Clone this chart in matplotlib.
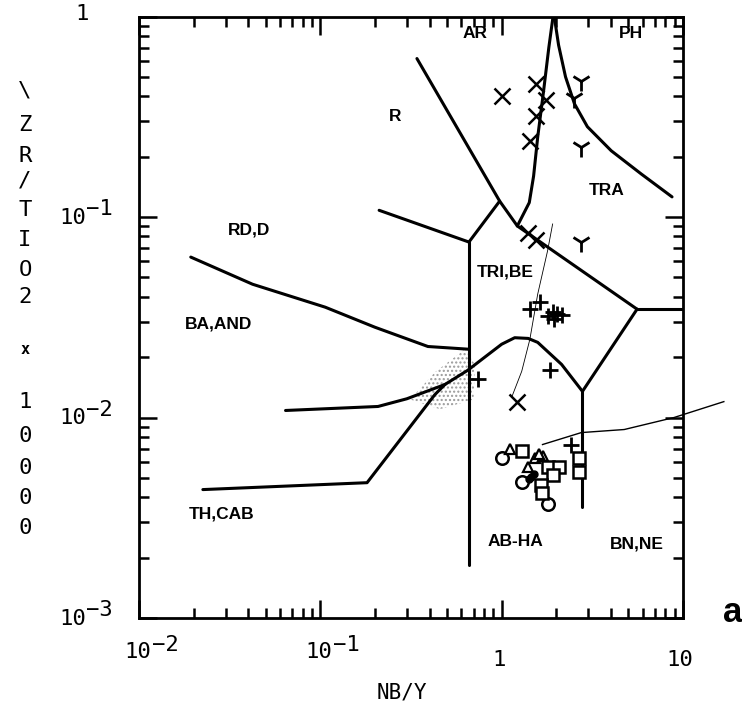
import matplotlib
matplotlib.use("Agg")
import matplotlib.pyplot as plt
from matplotlib.ticker import LogLocator, NullFormatter

# ---- field boundaries (Nb/Y, Zr/TiO2*0.0001) ----
rdd_x = [0.211, 0.66]
rdd_y = [0.108, 0.075]
tribe_top_x = [0.66, 0.975]
tribe_top_y = [0.075, 0.120]
r_ar_x = [0.341, 0.975, 1.22, 5.58]
r_ar_y = [0.617, 0.120, 0.0902, 0.0347]
ph_base_x = [5.58, 10.0]
ph_base_y = [0.0347, 0.0347]
tra_diag_x = [5.58, 2.79]
tra_diag_y = [0.0347, 0.0135]
bnne_x = [2.79, 2.79]
bnne_y = [0.0135, 0.00359]
arch_x = [0.486, 0.65, 0.807, 1.0, 1.18, 1.40, 1.58, 2.14, 2.79]
arch_y = [0.0146, 0.0172, 0.0200, 0.0232, 0.0250, 0.0248, 0.0237, 0.0184, 0.0135]
cab_upper_x = [0.0643, 0.208, 0.30, 0.486]
cab_upper_y = [0.01084, 0.01135, 0.0124, 0.0146]
cab_lower_x = [0.0225, 0.181, 0.428, 0.486]
cab_lower_y = [0.00437, 0.00473, 0.0130, 0.0146]
baand_x = [0.0193, 0.0423, 0.1064, 0.200, 0.392, 0.66]
baand_y = [0.0631, 0.0462, 0.0355, 0.0282, 0.0226, 0.0219]
abha_x = [0.66, 0.66]
abha_y = [0.075, 0.00184]
ar_tra_x = [1.92, 1.82, 1.70, 1.58, 1.50, 1.42, 1.22]
ar_tra_y = [1.0, 0.70, 0.42, 0.25, 0.16, 0.118, 0.0902]
ph_tra_x = [1.95, 2.06, 2.25, 2.52, 2.97, 4.02, 5.88, 8.70]
ph_tra_y = [1.0, 0.72, 0.50, 0.367, 0.282, 0.214, 0.164, 0.126]

# stippled cloud of fine dots near the andesite / basalt junction
cloud_x = [0.313, 0.428, 0.627, 0.711, 0.70, 0.456]
cloud_y = [0.0123, 0.0168, 0.0219, 0.0184, 0.0123, 0.0110]

# hand-drawn annotation strokes
pen_x = [1.68, 2.75, 4.74, 8.93, 16.8]
pen_y = [0.00733, 0.00841, 0.00871, 0.0100, 0.0120]
trend_x = [1.91, 1.79, 1.58, 1.43, 1.29, 1.135]
trend_y = [0.0923, 0.0676, 0.0412, 0.0245, 0.0170, 0.0126]

# ---- samples ----
cross_x = [1.0, 1.54, 1.75, 1.54, 1.43, 1.39, 1.54, 1.21]
cross_y = [0.403, 0.462, 0.385, 0.320, 0.240, 0.0832, 0.0767, 0.0119]
ysym_x = [2.75, 2.52, 2.75, 2.75]
ysym_y = [0.479, 0.394, 0.224, 0.075]
plus_x = [1.43, 1.62, 1.79, 1.91, 2.03, 2.14, 1.95, 0.738, 1.84, 2.42]
plus_y = [0.0347, 0.0376, 0.0320, 0.0335, 0.0330, 0.0325, 0.0309, 0.0155, 0.0172, 0.00733]
circ_x = [1.01, 1.29, 1.79]
circ_y = [0.00631, 0.00479, 0.00372]
tri_x = [1.11, 1.52, 1.68, 1.39, 1.60]
tri_y = [0.0070, 0.00631, 0.0064, 0.00569, 0.0066]
sq_x = [1.30, 1.79, 2.08, 1.91, 1.64, 1.66, 2.68, 2.68]
sq_y = [0.00684, 0.00569, 0.00569, 0.00519, 0.00462, 0.00422, 0.00631, 0.00537]
dot_x = [1.46, 1.50, 1.42]
dot_y = [0.00507, 0.00520, 0.00495]

# ---- field names ----
field_names = ["AR", "PH", "R", "RD,D", "TRA", "TRI,BE", "BA,AND", "TH,CAB", "AB-HA", "BN,NE"]
field_x = [0.711, 5.18, 0.258, 0.0407, 3.78, 1.04, 0.0275, 0.0286, 1.19, 5.58]
field_y = [0.822, 0.822, 0.316, 0.0861, 0.135, 0.0531, 0.0292, 0.00331, 0.0024, 0.00234]

# ---- axis ticks ----
xtick_vals = [0.01, 0.1, 1, 10]
xtick_base = ["10", "10", "1", "10"]
xtick_exp = ["\u22122", "\u22121", "", ""]
ytick_vals = [0.001, 0.01, 0.1, 1]
ytick_base = ["10", "10", "10", "1"]
ytick_exp = ["\u22123", "\u22122", "\u22121", ""]
ylabel_chars = ["\\", "Z", "R", "/", "T", "I", "O", "2", "x", "1", "0", "0", "0", "0"]
xlabel_text = "NB/Y"

MONO = "DejaVu Sans Mono"
BOLD = ["Liberation Sans", "DejaVu Sans"]

fig = plt.figure(figsize=(7.42, 7.11), dpi=100)
W, H = 742, 711
ax = fig.add_axes([139 / W, 1 - 618 / H, 544 / W, (618 - 16.5) / H])
ax.set_xscale("log")
ax.set_yscale("log")
ax.set_xlim(0.01, 10)
ax.set_ylim(0.001, 1)

for s in ax.spines.values():
    s.set_linewidth(2.0)

ax.xaxis.set_minor_locator(LogLocator(base=10, subs=range(2, 10), numticks=20))
ax.yaxis.set_minor_locator(LogLocator(base=10, subs=range(2, 10), numticks=20))
ax.xaxis.set_minor_formatter(NullFormatter())
ax.yaxis.set_minor_formatter(NullFormatter())
ax.set_xticks(xtick_vals)
ax.set_yticks(ytick_vals)
ax.tick_params(which="both", direction="in", top=True, right=True,
               labelbottom=False, labelleft=False, width=1.8, color="black")
ax.tick_params(which="major", length=13)
ax.tick_params(which="minor", length=7)

lw = 2.2
kw = dict(color="black", lw=lw, solid_capstyle="round", solid_joinstyle="round")
for xs, ys in [(rdd_x, rdd_y), (tribe_top_x, tribe_top_y), (r_ar_x, r_ar_y),
               (ph_base_x, ph_base_y), (tra_diag_x, tra_diag_y), (bnne_x, bnne_y),
               (arch_x, arch_y), (cab_upper_x, cab_upper_y), (cab_lower_x, cab_lower_y),
               (baand_x, baand_y), (abha_x, abha_y), (ar_tra_x, ar_tra_y),
               (ph_tra_x, ph_tra_y)]:
    ax.plot(xs, ys, **kw)

ax.fill(cloud_x, cloud_y, facecolor="none", edgecolor="#9a9a9a", hatch="....", lw=0)
ax.plot(pen_x, pen_y, color="black", lw=1.0, clip_on=False)
ax.plot(trend_x, trend_y, color="black", lw=0.6)

ax.plot(cross_x, cross_y, ls="none", marker="x", ms=11, mew=1.8, color="black")
ax.plot(ysym_x, ysym_y, ls="none", marker="1", ms=15, mew=2.0, color="black")
ax.plot(plus_x, plus_y, ls="none", marker="+", ms=11, mew=2.0, color="black")
ax.plot(circ_x, circ_y, ls="none", marker="o", ms=9, mew=1.8, mfc="white", mec="black")
ax.plot(tri_x, tri_y, ls="none", marker="^", ms=7, mew=1.6, mfc="white", mec="black")
ax.plot(sq_x, sq_y, ls="none", marker="s", ms=8, mew=1.8, mfc="white", mec="black")
ax.plot(dot_x, dot_y, ls="none", marker="o", ms=5, color="black")

for name, fx, fy in zip(field_names, field_x, field_y):
    ax.text(fx, fy, name, ha="center", va="center", fontsize=12.5,
            fontweight="bold", family=BOLD)

# tick labels in plotter style: base with a raised exponent
for v, b, e in zip(xtick_vals, xtick_base, xtick_exp):
    if e:
        ax.annotate(b, xy=(v, 0), xycoords=("data", "axes fraction"),
                    xytext=(12, -34), textcoords="offset pixels",
                    ha="right", va="center", fontsize=16, family=MONO)
        ax.annotate(e, xy=(v, 0), xycoords=("data", "axes fraction"),
                    xytext=(13, -27), textcoords="offset pixels",
                    ha="left", va="center", fontsize=16, family=MONO)
    else:
        ax.annotate(b, xy=(v, 0), xycoords=("data", "axes fraction"),
                    xytext=(-3, -42), textcoords="offset pixels",
                    ha="center", va="center", fontsize=16, family=MONO)

for v, b, e in zip(ytick_vals, ytick_base, ytick_exp):
    if e:
        ax.annotate(b, xy=(0, v), xycoords=("axes fraction", "data"),
                    xytext=(-53, -1), textcoords="offset pixels",
                    ha="right", va="center", fontsize=16, family=MONO)
        ax.annotate(e, xy=(0, v), xycoords=("axes fraction", "data"),
                    xytext=(-53, 8), textcoords="offset pixels",
                    ha="left", va="center", fontsize=16, family=MONO)
    else:
        ax.annotate(b, xy=(0, v), xycoords=("axes fraction", "data"),
                    xytext=(-57, 2), textcoords="offset pixels",
                    ha="center", va="center", fontsize=16, family=MONO)

fig.text(402 / W, 1 - 692 / H, xlabel_text, ha="center", va="center",
         fontsize=15, family=MONO)

ylab_pos = [91, 125, 156, 180, 210, 240, 270, 297, 350, 402, 436, 468, 498, 528]
for ch, py in zip(ylabel_chars, ylab_pos):
    fig.text(25 / W, 1 - py / H, ch, ha="center", va="center",
             fontsize=16 if ch != "x" else 11, family=MONO,
             fontweight="bold" if ch == "x" else "normal")

fig.text(733 / W, 1 - 612 / H, "a", ha="center", va="center",
         fontsize=25, fontweight="bold", family=["Liberation Sans", "DejaVu Sans"])

fig.savefig("out.png", dpi=100, facecolor="white")
